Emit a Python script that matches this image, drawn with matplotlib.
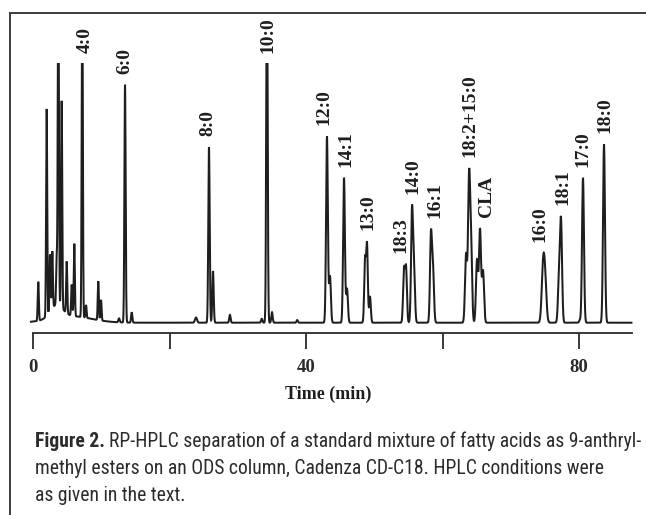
"""
RP-HPLC chromatogram of fatty-acid 9-anthrylmethyl esters (Figure 2 recreation)
"""
import numpy as np
import matplotlib
matplotlib.use("Agg")
import matplotlib.pyplot as plt
from matplotlib import font_manager
from matplotlib.lines import Line2D

# ============================================================
# data (time in min, height in % of full scale)
# ============================================================
peak_time = [0.73, 1.96, 2.45, 2.79, 3.43, 3.67, 4.16, 4.90, 5.63, 6.01,
             7.18, 7.73, 9.53, 9.93, 12.57, 13.45, 14.43,
             23.86, 25.76, 26.35, 28.83, 33.50, 34.26, 35.00, 38.70,
             43.06, 43.50, 45.56, 46.00, 48.64, 48.93, 49.37,
             54.35, 54.65, 55.53, 55.82, 58.31, 58.61,
             63.45, 63.89, 64.18, 65.06, 65.50, 65.94,
             74.74, 75.04, 77.09, 77.38, 80.16, 80.60, 83.68]
peak_height = [15, 80, 22, 22, 18, 140, 80, 20, 12, 28,
               140, 5, 15, 8, 1.5, 92, 4,
               2, 68, 20, 3, 1.5, 150, 4, 1,
               72, 18, 56, 13, 24, 30, 10,
               20, 21, 43, 20, 34, 20,
               26, 54, 30, 24, 36, 20,
               20, 15.5, 18, 38, 1, 56, 69]
peak_width = [0.08, 0.08, 0.08, 0.08, 0.08, 0.08, 0.08, 0.08, 0.08, 0.08,
              0.08, 0.08, 0.08, 0.08, 0.10, 0.09, 0.09,
              0.15, 0.10, 0.10, 0.10, 0.10, 0.10, 0.10, 0.10,
              0.13, 0.13, 0.13, 0.13, 0.12, 0.12, 0.12,
              0.13, 0.13, 0.14, 0.14, 0.14, 0.14,
              0.15, 0.15, 0.15, 0.15, 0.15, 0.15,
              0.20, 0.20, 0.15, 0.15, 0.12, 0.14, 0.14]

# raised baseline under the solvent / short-chain cluster
hump_time = [3.4, 5.5]
hump_height = [5, 2.5]
hump_width = [0.9, 3.0]

label_names = ['4:0', '6:0', '8:0', '10:0', '12:0', '14:1', '13:0', '18:3',
               '14:0', '16:1', '18:2+15:0', 'CLA', '16:0', '18:1', '17:0', '18:0']
label_times = [7.6, 13.45, 25.6, 34.4, 42.6, 45.8, 49.1, 53.9,
               55.6, 58.9, 64.0, 66.4, 74.3, 77.7, 80.6, 83.8]

xticks = [0, 20, 40, 60, 80]
xtick_labels = ['0', '', '40', '', '80']

caption_bold = 'Figure 2.'
caption_lines = ['RP-HPLC separation of a standard mixture of fatty acids as 9-anthryl-',
                 'methyl esters on an ODS column, Cadenza CD-C18. HPLC conditions were',
                 'as given in the text.']

# ============================================================
# layout helpers (reference is 646 x 515 px)
# ============================================================
W, H = 646, 515
X0, PX_PER_MIN = 33.3, 6.82          # pixel of t=0, pixels per minute
Y_BASE, Y_FULL = 322.7, 64.0         # pixel of baseline and of full scale


def t_of(px):
    return (px - X0) / PX_PER_MIN


def h_of(py):
    return (Y_BASE - py) / (Y_BASE - Y_FULL) * 100


def chromatogram(t):
    sig = np.zeros_like(t)
    for c, h, w in zip(peak_time, peak_height, peak_width):
        sig += h * np.exp(-0.5 * ((t - c) / w) ** 2)
    for c, h, w in zip(hump_time, hump_height, hump_width):
        sig += h * np.exp(-0.5 * ((t - c) / w) ** 2)
    return np.minimum(sig, 100)      # detector goes off scale


serif = ['Liberation Serif', 'DejaVu Serif']
names = {f.name for f in font_manager.fontManager.ttflist}
cap_font = next((n for n in ['Liberation Sans Narrow', 'Roboto Condensed',
                             'Open Sans Condensed'] if n in names), 'Liberation Sans')

fig = plt.figure(figsize=(W / 100, H / 100), dpi=100)
fig.patch.set_facecolor('white')

# axes spans x 10..646 px, y 13..333 px
ax = fig.add_axes([10 / W, 1 - 333 / H, (W - 10) / W, (333 - 13) / H])
ax.set_xlim(t_of(10), t_of(W))
ax.set_ylim(h_of(333), h_of(13))
ax.patch.set_alpha(0)

t = np.linspace(-0.35, 87.7, 9000)
sig = chromatogram(t)
ax.plot(t, sig, color='#1e1e1e', lw=1.45, solid_joinstyle='miter')

# peak labels, sat just above each peak
gap = h_of(Y_BASE - 11)
for name, lt in zip(label_names, label_times):
    near = (t > lt - 1.0) & (t < lt + 1.0)
    top = sig[near].max()
    ax.text(lt, top + gap, name, rotation=90, ha='center', va='bottom',
            family=serif, fontweight='bold', fontsize=14, color='#1e1e1e')

for side in ['top', 'right', 'left']:
    ax.spines[side].set_visible(False)
ax.spines['bottom'].set_bounds(0, t_of(631.7))
ax.spines['bottom'].set_linewidth(1.3)
ax.spines['bottom'].set_color('#2a2a2a')
ax.set_yticks([])
ax.set_xticks(xticks)
ax.set_xticklabels(xtick_labels, family=serif, fontweight='bold', fontsize=13.5)
ax.tick_params(axis='x', direction='out', length=11.5, width=1.3,
               colors='#2a2a2a', pad=7)
ax.set_xlabel('Time (min)', family=serif, fontweight='bold', fontsize=13,
              labelpad=7, color='#1e1e1e')

# frame round the figure
frame = dict(transform=fig.transFigure, color='#3c3c3c', lw=1.4)
fig.add_artist(Line2D([10 / W, 10 / W], [0, 1 - 13 / H], **frame))
fig.add_artist(Line2D([10 / W, 1], [1 - 13 / H, 1 - 13 / H], **frame))

# caption, size fitted so lines 1 and 2 span about 35..635 px
fig.canvas.draw()
r = fig.canvas.get_renderer()


def width_at(text, size, weight='normal'):
    p = fig.text(0, 0, text, family=cap_font, fontsize=size, fontweight=weight)
    w = p.get_window_extent(r).width
    p.remove()
    return w


w1 = width_at(caption_bold, 13, 'bold') + 13 * 0.3 + width_at(caption_lines[0], 13)
w2 = width_at(caption_lines[1], 13)
fs = min(13 * (638 - 35) / w1, 13 * (632 - 35) / w2)

baselines = [447, 474.5, 501]
tb = fig.text(35 / W, 1 - baselines[0] / H, caption_bold, family=cap_font,
              fontweight='bold', fontsize=fs, va='baseline', color='#2b2b2b')
bb = tb.get_window_extent(r)
fig.text((bb.x1 + fs * 0.3) / W, 1 - baselines[0] / H, caption_lines[0],
         family=cap_font, fontsize=fs, va='baseline', color='#2b2b2b')
for line, yb in zip(caption_lines[1:], baselines[1:]):
    fig.text(35 / W, 1 - yb / H, line, family=cap_font, fontsize=fs,
             va='baseline', color='#2b2b2b')

fig.savefig('out.png', dpi=100, facecolor='white')
